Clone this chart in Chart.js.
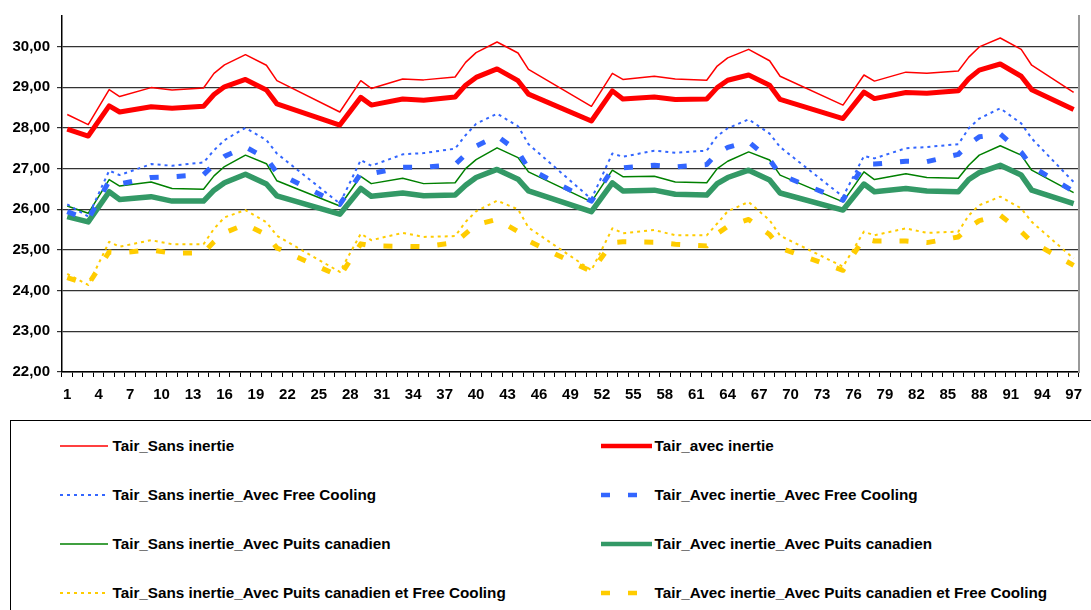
<!DOCTYPE html>
<html>
<head>
<meta charset="utf-8">
<script src="https://cdn.jsdelivr.net/npm/chart.js@4"></script>
<style>
  body { margin: 0; background: #fff; width: 1091px; height: 610px; overflow: hidden; position: relative; font-family: "Liberation Sans", Arial, sans-serif; }
  #wrap { position: absolute; left: 0; top: 0; width: 1091px; height: 410px; }
  #legend { position: absolute; left: 10px; top: 420px; width: 1100px; height: 220px; border-left: 1.5px solid #000; border-top: 1.5px solid #000; box-sizing: border-box; padding: 0 0 0 49px; display: grid; grid-template-columns: 541px 1fr; grid-auto-rows: 49px; }
  .item { display: flex; align-items: center; font-weight: bold; font-size: 15.25px; color: #000; white-space: nowrap; }
</style>
</head>
<body>
<div id="wrap"><canvas id="chartTair"></canvas></div>
<div id="legend"></div>
<script>
// heures (1..97) où les courbes changent de pente
const hours = [1, 3, 5, 6, 9, 11, 14, 15, 16, 18, 20, 21,
  27, 29, 30, 33, 35, 38, 39, 40, 42, 44, 45,
  51, 53, 54, 57, 59, 62, 63, 64, 66, 68, 69,
  75, 77, 78, 81, 83, 86, 87, 88, 90, 92, 93,
  97];

const sansInertie = [28.33, 28.08, 28.94, 28.77, 28.99, 28.93, 28.98, 29.34, 29.55, 29.80, 29.54, 29.16,
  28.39, 29.16, 28.97, 29.20, 29.18, 29.25, 29.61, 29.85, 30.11, 29.84, 29.44,
  28.53, 29.34, 29.19, 29.27, 29.20, 29.17, 29.52, 29.72, 29.93, 29.65, 29.27,
  28.56, 29.30, 29.15, 29.37, 29.34, 29.40, 29.74, 29.99, 30.21, 29.93, 29.54,
  28.87];
const avecInertie = [27.97, 27.80, 28.54, 28.39, 28.52, 28.48, 28.53, 28.82, 29.01, 29.19, 28.93, 28.59,
  28.07, 28.75, 28.56, 28.71, 28.68, 28.76, 29.05, 29.24, 29.45, 29.16, 28.83,
  28.17, 28.91, 28.71, 28.76, 28.70, 28.71, 28.99, 29.17, 29.30, 29.05, 28.70,
  28.23, 28.88, 28.72, 28.87, 28.85, 28.91, 29.21, 29.42, 29.57, 29.27, 28.94,
  28.45];
const sansInertieFC = [26.12, 25.82, 26.95, 26.84, 27.11, 27.07, 27.15, 27.45, 27.70, 28.00, 27.70, 27.37,
  26.14, 27.21, 27.07, 27.35, 27.38, 27.49, 27.82, 28.10, 28.35, 28.04, 27.60,
  26.25, 27.37, 27.29, 27.44, 27.39, 27.44, 27.80, 27.99, 28.21, 27.86, 27.53,
  26.31, 27.31, 27.25, 27.50, 27.53, 27.60, 27.99, 28.23, 28.48, 28.11, 27.74,
  26.67];
const avecInertieFC = [25.94, 25.75, 26.70, 26.62, 26.78, 26.80, 26.85, 27.10, 27.30, 27.53, 27.25, 26.90,
  26.12, 26.88, 26.88, 27.03, 27.03, 27.10, 27.35, 27.55, 27.80, 27.42, 27.00,
  26.20, 26.98, 27.02, 27.08, 27.04, 27.10, 27.38, 27.52, 27.66, 27.22, 26.85,
  26.22, 27.11, 27.11, 27.18, 27.17, 27.35, 27.60, 27.78, 27.85, 27.40, 27.05,
  26.44];
const sansInertiePC = [26.08, 25.90, 26.73, 26.57, 26.67, 26.51, 26.49, 26.82, 27.05, 27.33, 27.12, 26.70,
  26.08, 26.81, 26.63, 26.76, 26.63, 26.65, 27.00, 27.22, 27.51, 27.27, 26.92,
  26.18, 26.96, 26.80, 26.81, 26.67, 26.65, 27.00, 27.18, 27.41, 27.21, 26.84,
  26.18, 26.92, 26.73, 26.87, 26.78, 26.76, 27.08, 27.33, 27.56, 27.33, 26.96,
  26.41];
const avecInertiePC = [25.82, 25.69, 26.43, 26.24, 26.31, 26.20, 26.20, 26.47, 26.65, 26.86, 26.62, 26.33,
  25.88, 26.51, 26.32, 26.40, 26.33, 26.35, 26.59, 26.78, 26.98, 26.74, 26.45,
  25.94, 26.65, 26.45, 26.47, 26.37, 26.35, 26.63, 26.78, 26.96, 26.72, 26.40,
  25.98, 26.62, 26.43, 26.51, 26.45, 26.43, 26.73, 26.90, 27.08, 26.84, 26.47,
  26.14];
const sansInertiePCFC = [24.41, 24.14, 25.20, 25.08, 25.24, 25.14, 25.14, 25.52, 25.80, 25.98, 25.68, 25.35,
  24.46, 25.40, 25.24, 25.42, 25.32, 25.34, 25.69, 25.95, 26.21, 26.00, 25.55,
  24.50, 25.53, 25.41, 25.49, 25.36, 25.36, 25.65, 25.95, 26.18, 25.73, 25.35,
  24.59, 25.45, 25.36, 25.53, 25.42, 25.45, 25.85, 26.10, 26.31, 26.02, 25.69,
  24.79];
const avecInertiePCFC = [24.32, 24.15, 24.95, 24.93, 25.00, 24.92, 24.93, 25.20, 25.42, 25.63, 25.37, 25.05,
  24.35, 25.15, 25.10, 25.09, 25.08, 25.18, 25.40, 25.62, 25.75, 25.45, 25.22,
  24.47, 25.18, 25.20, 25.19, 25.14, 25.10, 25.40, 25.58, 25.75, 25.38, 25.05,
  24.50, 25.28, 25.22, 25.22, 25.18, 25.32, 25.55, 25.72, 25.85, 25.45, 25.20,
  24.62];

// étiquettes de l'axe X : 1 à 97
const categories = Array.from({ length: 97 }, (_, i) => String(i + 1));

const FONT = '"Liberation Sans", Arial, sans-serif';

function serie(label, values, color, width, dash) {
  return {
    label: label,
    data: hours.map((h, i) => ({ x: String(h), y: values[i] })),
    borderColor: color,
    backgroundColor: color,
    borderWidth: width,
    borderDash: dash,
    borderCapStyle: 'butt',
    borderJoinStyle: 'round',
    pointRadius: 0,
    tension: 0,
    fill: false,
    spanGaps: true
  };
}

const datasets = [
  serie('Tair_Sans inertie', sansInertie, '#FF0000', 1.5, []),
  serie('Tair_avec inertie', avecInertie, '#FF0000', 5, []),
  serie('Tair_Sans inertie_Avec Free Cooling', sansInertieFC, '#3366FF', 2, [3, 4]),
  serie('Tair_Avec inertie_Avec Free Cooling', avecInertieFC, '#3366FF', 5, [9, 18]),
  serie('Tair_Sans inertie_Avec Puits canadien', sansInertiePC, '#008000', 1.5, []),
  serie('Tair_Avec inertie_Avec Puits canadien', avecInertiePC, '#339966', 5.5, []),
  serie('Tair_Sans inertie_Avec Puits canadien et Free Cooling', sansInertiePCFC, '#FFCC00', 2, [3, 4]),
  serie('Tair_Avec inertie_Avec Puits canadien et Free Cooling', avecInertiePCFC, '#FFCC00', 5, [9, 18])
];

const ctx = document.getElementById('chartTair').getContext('2d');
const chart = new Chart(ctx, {
  type: 'line',
  data: { labels: categories, datasets: datasets },
  options: {
    responsive: true,
    maintainAspectRatio: false,
    animation: false,
    layout: { padding: { top: 16, right: 6, left: 0, bottom: 0 } },
    plugins: { legend: { display: false }, tooltip: { enabled: false } },
    scales: {
      x: {
        type: 'category',
        offset: true,
        grid: { offset: true, drawOnChartArea: false, drawTicks: true, tickLength: 5, color: '#000', lineWidth: 1 },
        border: { color: '#000', width: 1.5 },
        ticks: {
          autoSkip: false,
          maxRotation: 0,
          padding: 9,
          color: '#000',
          font: { family: FONT, size: 15, weight: 'bold' },
          callback: function (val, index) { return index % 3 === 0 ? this.getLabelForValue(val) : ''; }
        },
        afterFit: function (scale) { scale.height = 38; }
      },
      y: {
        min: 22,
        max: 30.75,
        grid: { color: '#333', lineWidth: 1.2, tickLength: 5 },
        border: { color: '#000', width: 1.5 },
        ticks: {
          stepSize: 1,
          padding: 7,
          color: '#000',
          font: { family: FONT, size: 15, weight: 'bold' },
          callback: v => v.toFixed(2).replace('.', ',')
        },
        afterBuildTicks: function (scale) { scale.ticks = scale.ticks.filter(t => Number.isInteger(t.value)); },
        afterFit: function (scale) { scale.width = 62; }
      },
      droite: {
        position: 'right',
        min: 0,
        max: 1,
        grid: { display: false, drawTicks: false },
        ticks: { display: false },
        border: { color: '#999', width: 2 },
        afterFit: function (scale) { scale.width = 0; }
      }
    }
  }
});

// légende HTML sur deux colonnes
const legend = document.getElementById('legend');
chart.data.datasets.forEach((ds, i) => {
  const item = document.createElement('div');
  item.className = 'item';
  const w = i % 2 === 0 ? 48 : 51;
  const dash = ds.borderDash.length ? ds.borderDash.join(' ') : 'none';
  item.innerHTML = '<svg width="' + w + '" height="8" style="margin-right:' + (i % 2 === 0 ? 4.5 : 2.5) + 'px">' +
    '<line x1="0" y1="4" x2="' + w + '" y2="4" stroke="' + ds.borderColor +
    '" stroke-width="' + Math.min(ds.borderWidth, 4.5) + '" stroke-dasharray="' + dash + '"/></svg><span></span>';
  item.querySelector('span').textContent = ds.label;
  legend.appendChild(item);
});
</script>
</body>
</html>
